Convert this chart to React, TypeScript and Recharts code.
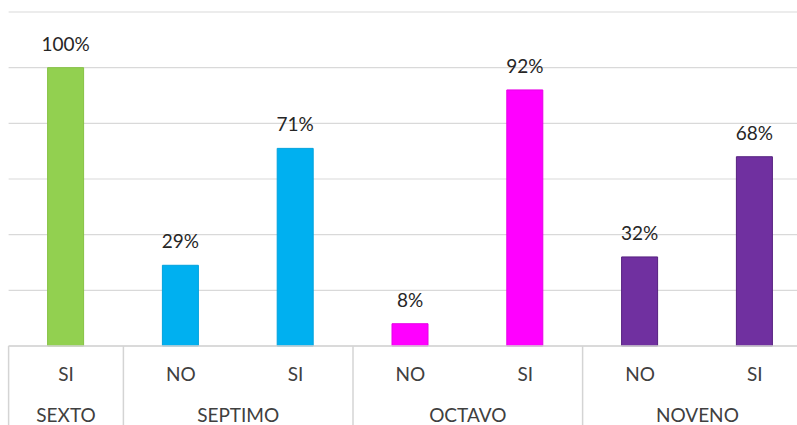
import { BarChart, Bar, XAxis, YAxis, CartesianGrid, Cell, LabelList } from "recharts";

const groups = ["SEXTO", "SEPTIMO", "SEPTIMO", "OCTAVO", "OCTAVO", "NOVENO", "NOVENO"];
const answers = ["SI", "NO", "SI", "NO", "SI", "NO", "SI"];
const values = [100, 29, 71, 8, 92, 32, 68];
const colors = ["#92D050", "#00B0F0", "#00B0F0", "#FF00FF", "#FF00FF", "#7030A0", "#7030A0"];
const strokes = ["#86c244", "#00a2dd", "#00a2dd", "#e600e6", "#e600e6", "#55207f", "#55207f"];
const yTicks = [0, 20, 40, 60, 80, 100, 120];

const data = answers.map((a, i) => ({ name: `${groups[i]}-${a}`, value: values[i] }));

// layout
const CHART_W = 830;
const CHART_H = 430;
const M_LEFT = 8.6;
const M_RIGHT = 17.8;
const M_TOP = 12;
const AXIS_H = 84;
const PLOT_W = CHART_W - M_LEFT - M_RIGHT;
const BAND = PLOT_W / answers.length;
const BASELINE = CHART_H - AXIS_H;
const FONT = "Lato, 'Open Sans', sans-serif";

function GroupTick(props: any) {
  const { x, payload } = props;
  const i = payload.index;
  const group = groups[i];
  const first = i === 0 || groups[i - 1] !== group;
  let span = 0;
  for (let j = i; j < groups.length && groups[j] === group; j++) span++;
  const left = x - BAND / 2;
  return (
    <g>
      <text x={x} y={373} textAnchor="middle" dominantBaseline="central" fill="#404040" fontSize={19} fontFamily={FONT}>
        {answers[i]}
      </text>
      {first && (
        <>
          <line x1={left} x2={left} y1={BASELINE} y2={CHART_H} stroke="#d4d4d4" strokeWidth={1.5} />
          <text x={left + (span * BAND) / 2} y={414} textAnchor="middle" dominantBaseline="central" fill="#404040" fontSize={19} fontFamily={FONT}>
            {group}
          </text>
        </>
      )}
    </g>
  );
}

function ValueLabel(props: any) {
  const { x, y, width, value } = props;
  return (
    <text x={x + width / 2} y={y - 24.5} textAnchor="middle" dominantBaseline="central" fill="#262626" fontSize={19} fontFamily={FONT}>
      {`${value}%`}
    </text>
  );
}

export default function App() {
  return (
    <div style={{ position: "absolute", left: 0, top: 0, width: 797, height: 425, overflow: "hidden", background: "#fff" }}>
      <BarChart
        width={CHART_W}
        height={CHART_H}
        data={data}
        margin={{ top: M_TOP, right: M_RIGHT, bottom: 0, left: M_LEFT }}
      >
        <CartesianGrid vertical={false} stroke="#d9d9d9" strokeWidth={1.2} />
        <YAxis hide domain={[0, 120]} ticks={yTicks} />
        <XAxis
          dataKey="name"
          interval={0}
          height={AXIS_H}
          tickLine={false}
          axisLine={{ stroke: "#d4d4d4", strokeWidth: 1.5 }}
          tick={<GroupTick />}
        />
        <Bar dataKey="value" barSize={36} isAnimationActive={false}>
          {data.map((_, i) => (
            <Cell key={i} fill={colors[i]} stroke={strokes[i]} strokeWidth={1} />
          ))}
          <LabelList dataKey="value" content={<ValueLabel />} />
        </Bar>
      </BarChart>
    </div>
  );
}
